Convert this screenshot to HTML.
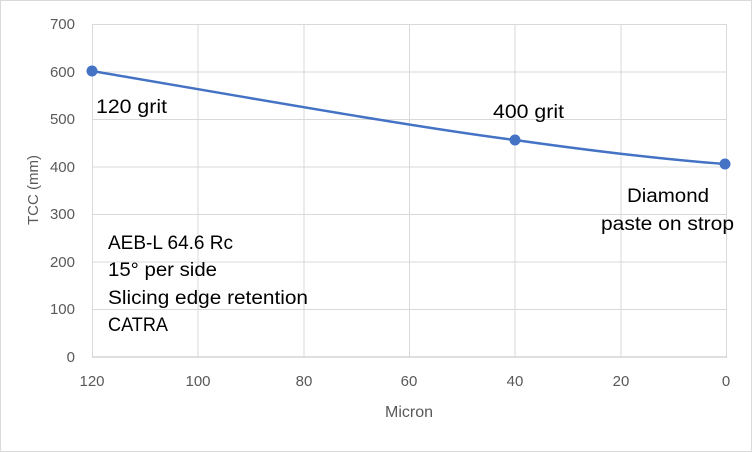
<!DOCTYPE html>
<html><head><style>
body{margin:0;background:#fff}
svg{display:block;font-family:"Liberation Sans",sans-serif}
</style></head><body>
<svg width="752" height="452" viewBox="0 0 752 452">
<rect x="0.5" y="0.5" width="751" height="451" fill="#fff" stroke="#d9d9d9"/>
<g stroke="#d9d9d9" stroke-width="1">
<line x1="92" y1="24.5" x2="727" y2="24.5"/>
<line x1="92" y1="72" x2="727" y2="72"/>
<line x1="92" y1="119.5" x2="727" y2="119.5"/>
<line x1="92" y1="167" x2="727" y2="167"/>
<line x1="92" y1="214.5" x2="727" y2="214.5"/>
<line x1="92" y1="262" x2="727" y2="262"/>
<line x1="92" y1="309.5" x2="727" y2="309.5"/>
<line x1="92.5" y1="24" x2="92.5" y2="357"/>
<line x1="198" y1="24" x2="198" y2="357"/>
<line x1="304" y1="24" x2="304" y2="357"/>
<line x1="409.5" y1="24" x2="409.5" y2="357"/>
<line x1="515" y1="24" x2="515" y2="357"/>
<line x1="621" y1="24" x2="621" y2="357"/>
<line x1="726.5" y1="24" x2="726.5" y2="357"/>
</g>
<line x1="92" y1="357" x2="727" y2="357" stroke="#bfbfbf"/>
<g fill="#595959" font-size="15" text-anchor="end">
<text x="75" y="29">700</text><text x="75" y="77">600</text><text x="75" y="124">500</text>
<text x="75" y="172">400</text><text x="75" y="219">300</text><text x="75" y="267">200</text>
<text x="75" y="314">100</text><text x="75" y="362">0</text>
</g>
<g fill="#595959" font-size="15" text-anchor="middle">
<text x="92" y="386">120</text><text x="198" y="386">100</text><text x="304" y="386">80</text>
<text x="409" y="386">60</text><text x="515" y="386">40</text><text x="621" y="386">20</text>
<text x="726" y="386">0</text>
<text x="409" y="417" font-size="16">Micron</text>
</g>
<text transform="translate(38,190) rotate(-90)" fill="#595959" font-size="15" text-anchor="middle">TCC (mm)</text>
<path d="M92,71 C250,98 420,128 515,140 C600,152 670,160 725,164" fill="none" stroke="#4472c4" stroke-width="2.5"/>
<g fill="#4472c4"><circle cx="92" cy="71" r="5.5"/><circle cx="515" cy="140" r="5.5"/><circle cx="725" cy="164" r="5.5"/></g>
<g fill="#000" font-size="19">
<text x="96" y="113" textLength="71" lengthAdjust="spacingAndGlyphs">120 grit</text>
<text x="493" y="118" textLength="71" lengthAdjust="spacingAndGlyphs">400 grit</text>
<text x="627" y="202" textLength="82" lengthAdjust="spacingAndGlyphs">Diamond</text>
<text x="601" y="230" textLength="133" lengthAdjust="spacingAndGlyphs">paste on strop</text>
<text x="108" y="249" textLength="125" lengthAdjust="spacingAndGlyphs">AEB-L 64.6 Rc</text>
<text x="108" y="276" textLength="109" lengthAdjust="spacingAndGlyphs">15° per side</text>
<text x="108" y="304" textLength="200" lengthAdjust="spacingAndGlyphs">Slicing edge retention</text>
<text x="108" y="331" textLength="60" lengthAdjust="spacingAndGlyphs">CATRA</text>
</g>
</svg>
</body></html>
